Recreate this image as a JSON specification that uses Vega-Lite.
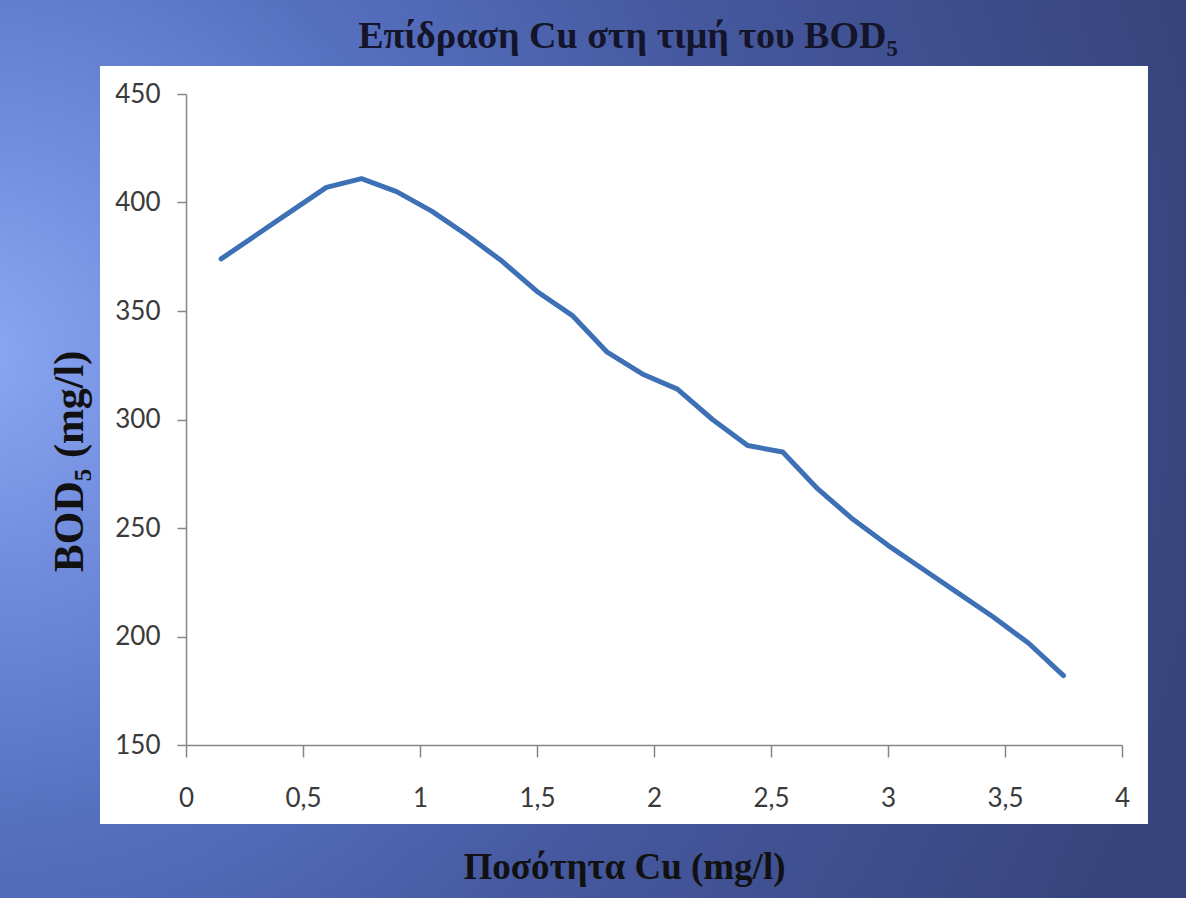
{
  "$schema": "https://vega.github.io/schema/vega-lite/v6.json",
  "width": 936,
  "height": 651,
  "autosize": {"type": "none"},
  "padding": {"left": 186, "top": 94, "right": 64, "bottom": 153},
  "background": "#4a5fa6",
  "title": {
    "text": "Επίδραση Cu στη τιμή του BOD₅",
    "font": "Liberation Serif",
    "fontSize": 38,
    "fontWeight": "bold",
    "color": "#14142a",
    "frame": "group",
    "anchor": "middle",
    "dx": -26,
    "dy": 38,
    "baseline": "alphabetic",
    "offset": -62
  },
  "config": {
    "view": {"stroke": null},
    "axis": {
      "zindex": 1,
      "grid": false,
      "domainColor": "#868686",
      "domainWidth": 1.5,
      "tickColor": "#868686",
      "tickWidth": 1.5,
      "labelFont": "Lato",
      "labelFontSize": 26,
      "labelColor": "#3a3a3a",
      "labelFlush": false,
      "titleFont": "Liberation Serif",
      "titleFontWeight": "bold",
      "titleColor": "#111111",
      "titleAlign": "center",
      "titleBaseline": "alphabetic"
    }
  },
  "layer": [
    {
      "description": "slide backdrop with a soft radial blue gradient",
      "data": {"values": [{}]},
      "mark": {
        "type": "rect",
        "clip": false,
        "fill": {
          "gradient": "radial",
          "x1": 0.0, "y1": 0.42, "r1": 0,
          "x2": 0.0, "y2": 0.42, "r2": 1.0,
          "stops": [
            {"offset": 0, "color": "#8aa8f4"},
            {"offset": 0.15, "color": "#7590e0"},
            {"offset": 0.38, "color": "#5670c0"},
            {"offset": 0.62, "color": "#4659a0"},
            {"offset": 1, "color": "#37457c"}
          ]
        }
      },
      "encoding": {
        "x": {"datum": -0.9, "type": "quantitative", "scale": {"domain": [0, 4], "nice": false, "zero": false}},
        "x2": {"datum": 4.4},
        "y": {"datum": 500, "type": "quantitative", "scale": {"domain": [150, 450], "nice": false, "zero": false}},
        "y2": {"datum": 70}
      }
    },
    {
      "description": "white chart panel",
      "data": {"values": [{}]},
      "mark": {"type": "rect", "clip": false, "fill": "#ffffff"},
      "encoding": {
        "x": {"datum": -0.3675, "type": "quantitative", "scale": {"domain": [0, 4], "nice": false, "zero": false}},
        "x2": {"datum": 4.111},
        "y": {"datum": 462.9, "type": "quantitative", "scale": {"domain": [150, 450], "nice": false, "zero": false}},
        "y2": {"datum": 113.6}
      }
    },
    {
      "data": {
        "values": [
          {"cu": 0.15, "bod": 374},
          {"cu": 0.30, "bod": 385},
          {"cu": 0.45, "bod": 396},
          {"cu": 0.60, "bod": 407},
          {"cu": 0.75, "bod": 411},
          {"cu": 0.90, "bod": 405},
          {"cu": 1.05, "bod": 396},
          {"cu": 1.20, "bod": 385},
          {"cu": 1.35, "bod": 373},
          {"cu": 1.50, "bod": 359},
          {"cu": 1.65, "bod": 348},
          {"cu": 1.80, "bod": 331},
          {"cu": 1.95, "bod": 321},
          {"cu": 2.10, "bod": 314},
          {"cu": 2.25, "bod": 300},
          {"cu": 2.40, "bod": 288},
          {"cu": 2.55, "bod": 285},
          {"cu": 2.70, "bod": 268},
          {"cu": 2.85, "bod": 254},
          {"cu": 3.00, "bod": 242},
          {"cu": 3.15, "bod": 231},
          {"cu": 3.30, "bod": 220},
          {"cu": 3.45, "bod": 209},
          {"cu": 3.60, "bod": 197},
          {"cu": 3.75, "bod": 182}
        ]
      },
      "mark": {"type": "line", "color": "#3e70b6", "strokeWidth": 5, "strokeCap": "round", "strokeJoin": "round"},
      "encoding": {
        "x": {
          "field": "cu",
          "type": "quantitative",
          "scale": {"domain": [0, 4], "nice": false, "zero": false},
          "axis": {
            "zindex": 1,
            "title": "Ποσότητα Cu (mg/l)",
            "values": [0, 0.5, 1, 1.5, 2, 2.5, 3, 3.5, 4],
            "labelExpr": "replace(format(datum.value, '~g'), '.', ',')",
            "tickSize": 12,
            "labelPadding": 28,
            "titleFontSize": 37,
            "titleX": 438,
            "titleY": 133
          }
        },
        "y": {
          "field": "bod",
          "type": "quantitative",
          "scale": {"domain": [150, 450], "nice": false, "zero": false},
          "axis": {
            "zindex": 1,
            "title": "BOD₅ (mg/l)",
            "values": [150, 200, 250, 300, 350, 400, 450],
            "labelExpr": "format(datum.value, 'd')",
            "tickSize": 9,
            "labelPadding": 17,
            "titleFontSize": 42,
            "titleAngle": -90,
            "titleX": -104,
            "titleY": 367
          }
        }
      }
    }
  ]
}
